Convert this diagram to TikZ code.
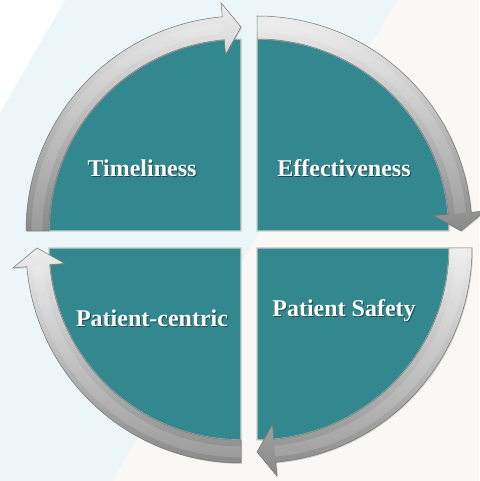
\documentclass[tikz,border=0pt]{standalone}
\usepackage{fontspec}
\setmainfont{Liberation Serif}
\usetikzlibrary{shadows,calc}
\definecolor{teal1}{RGB}{50,136,142}
\definecolor{bgblue}{RGB}{236,246,249}
\definecolor{bgbeige}{RGB}{249,248,244}
\tikzset{
  quad/.style={fill=teal1, draw=gray!40, line width=1.2pt},
  ring/.style={top color=gray!14, bottom color=gray!92, draw=gray!110, line width=0.5pt,
    drop shadow={opacity=0.3, shadow xshift=1pt, shadow yshift=-1pt}},
  ringhl/.style={draw=white, opacity=0.14, line width=11pt},
  lbl/.style={font=\bfseries\fontsize{24}{28}\selectfont, text=white, anchor=base, inner sep=0pt},
  lblsh/.style={lbl, text=black, opacity=0.45},
}
\newcommand\ringarrow[4]{%
  \path[ring] ($(#1)+(#2:215)$) arc[start angle=#2, end angle=#3, radius=215]
    -- ($(#1)+(#3:229)$) -- ($(#1)+(#4:204)$) -- ($(#1)+(#3:177)$)
    -- ($(#1)+(#3:192)$) arc[start angle=#3, end angle=#2, radius=192] -- cycle;
  \path[ringhl] ($(#1)+(#2:204)$) arc[start angle=#2, end angle=#3, radius=204];}
\begin{document}
\begin{tikzpicture}[x=1pt,y=1pt]
\useasboundingbox (0,0) rectangle (479,481);
\fill[bgbeige] (0,0) rectangle (479,481);
\fill[bgblue] (0,0) -- (112,0) -- (397,481) -- (0,481) -- cycle;
\fill[white] (0,481) -- (65,481) -- (0,368) -- cycle;

\coordinate (cTL) at (241,250);
\coordinate (cTR) at (257,250);
\coordinate (cBR) at (257,233);
\coordinate (cBL) at (241,233);

\path[quad] (cTL) -- ++(180:192) arc[start angle=180, end angle=90, radius=192] -- cycle;
\path[quad] (cTR) -- ++(90:192) arc[start angle=90, end angle=0, radius=192] -- cycle;
\path[quad] (cBR) -- ++(0:192) arc[start angle=0, end angle=-90, radius=192] -- cycle;
\path[quad] (cBL) -- ++(-90:192) arc[start angle=-90, end angle=-180, radius=192] -- cycle;

\ringarrow{cTL}{180}{95}{90}
\ringarrow{cTR}{90}{5}{0}
\ringarrow{cBR}{0}{-85}{-90}
\ringarrow{cBL}{-90}{-175}{-180}

\node[lblsh] (tlS) at (143,303) {Timeliness};
\node[lbl]   (tl)  at (142,304) {Timeliness};
\node[lblsh] (trS) at (345,303) {Effectiveness};
\node[lbl]   (tr)  at (344,304) {Effectiveness};
\node[lblsh] (brS) at (345,163) {Patient Safety};
\node[lbl]   (br)  at (344,164) {Patient Safety};
\node[lblsh] (blS) at (153,153) {Patient-centric};
\node[lbl]   (bl)  at (152,154) {Patient-centric};
\end{tikzpicture}
\end{document}
